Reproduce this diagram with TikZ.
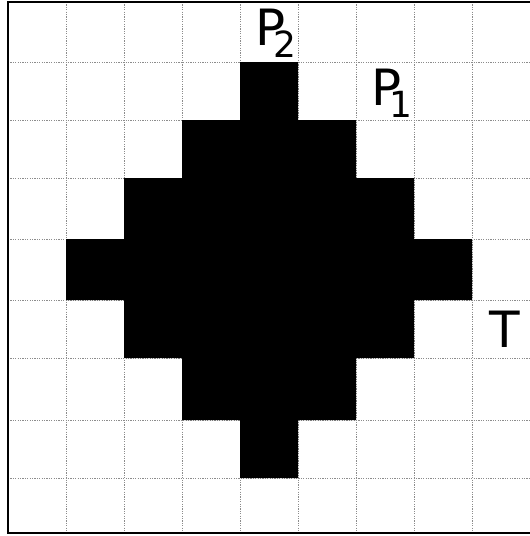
\documentclass[tikz,border=0pt]{standalone}
\usepackage{fontspec}
\setmainfont{DejaVu Sans}
\newcommand{\subsc}[1]{\kern-6pt\raisebox{-6pt}{\fontsize{18}{18}\selectfont #1}}
\begin{document}
\begin{tikzpicture}[x=0.5pt,y=-0.5pt,
  gridline/.style={draw=black!45,line width=0.35pt,dash pattern=on 0.6pt off 0.6pt},
  frameline/.style={draw=black,line width=1.1pt},
  lab/.style={inner sep=0pt,font=\fontsize{25}{25}\selectfont}]
\useasboundingbox (0,0) rectangle (530,536);
\foreach \x in {66,124,182,240,298,356,414,472} \draw[gridline] (\x,2) -- (\x,533);
\foreach \y in {62,120,178,239,300,358,420,478} \draw[gridline] (8,\y) -- (530,\y);
\fill[black] (240,62) -- (298,62) -- (298,120) -- (356,120) -- (356,178) -- (414,178)
  -- (414,239) -- (472,239) -- (472,300) -- (414,300) -- (414,358) -- (356,358)
  -- (356,420) -- (298,420) -- (298,478) -- (240,478) -- (240,420) -- (182,420)
  -- (182,358) -- (124,358) -- (124,300) -- (66,300) -- (66,239) -- (124,239)
  -- (124,178) -- (182,178) -- (182,120) -- (240,120) -- cycle;
\draw[frameline] (530,2) -- (8,2) -- (8,533) -- (530,533);
\node[lab,anchor=base west] (p2) at (255,45) {P\subsc{2}};
\node[lab,anchor=base west] (p1) at (371,105) {P\subsc{1}};
\node[lab,anchor=base west] (t) at (489,347) {T};
\end{tikzpicture}
\end{document}
